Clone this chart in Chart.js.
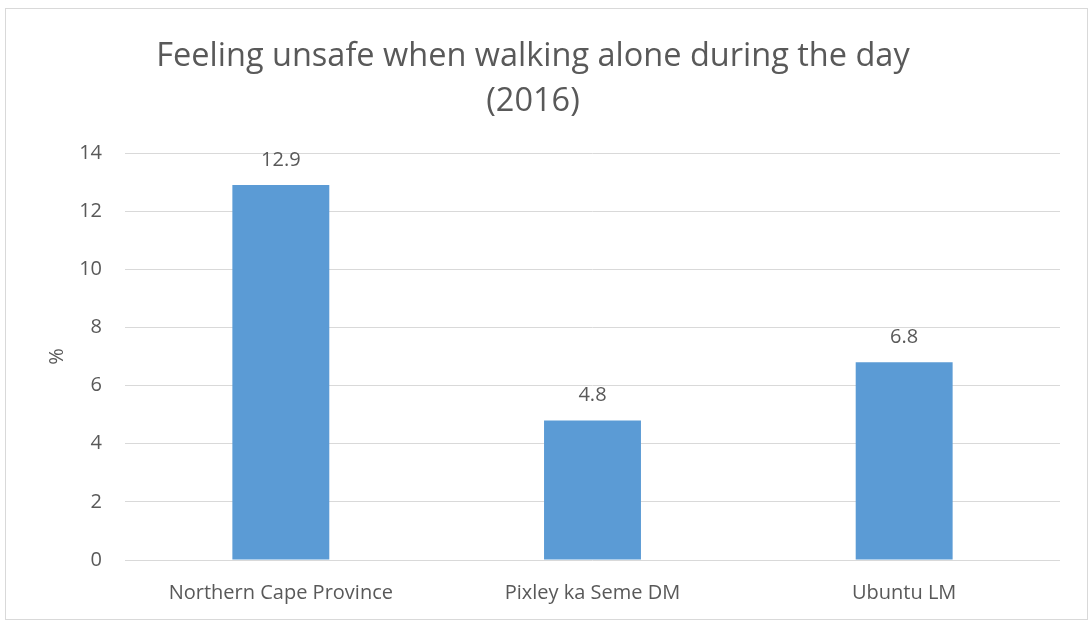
<!DOCTYPE html>
<html>
<head>
<meta charset="utf-8">
<script src="https://cdn.jsdelivr.net/npm/chart.js@4/dist/chart.umd.min.js"></script>
<style>
    body { margin: 0; background: #fff; }
    #wrap {
        position: absolute;
        left: 5px;
        top: 8px;
        width: 1081px;
        height: 610px;
        border: 1px solid #d9d9d9;
    }
</style>
</head>
<body>
<div id="wrap"><canvas id="chart" width="1081" height="610"></canvas></div>
<script>
const categories = ['Northern Cape Province', 'Pixley ka Seme DM', 'Ubuntu LM'];
const values = [12.9, 4.8, 6.8];
const yTicks = [0, 2, 4, 6, 8, 10, 12, 14];
const titleLines = ['Feeling unsafe when walking alone during the day', '(2016)'];

const textColor = '#595959';
const fontFamily = "'Open Sans', 'Noto Sans', sans-serif";

// value labels above each bar
const barLabels = {
    id: 'barLabels',
    afterDatasetsDraw(chart) {
        const ctx = chart.ctx;
        const meta = chart.getDatasetMeta(0);
        ctx.save();
        ctx.font = `20px ${fontFamily}`;
        ctx.fillStyle = textColor;
        ctx.textAlign = 'center';
        ctx.textBaseline = 'middle';
        meta.data.forEach((bar, i) => {
            ctx.fillText(values[i].toFixed(1), bar.x, bar.y - 25);
        });
        ctx.restore();
    }
};

const ctx = document.getElementById('chart').getContext('2d');
new Chart(ctx, {
    type: 'bar',
    data: {
        labels: categories,
        datasets: [{
            data: values,
            backgroundColor: '#5b9bd5',
            borderWidth: 0,
            barPercentage: 0.311,
            categoryPercentage: 1
        }]
    },
    options: {
        responsive: false,
        animation: false,
        layout: {
            padding: { left: 0, right: 27, top: 0, bottom: 0 }
        },
        scales: {
            x: {
                grid: { display: false, drawTicks: false },
                border: { display: false },
                ticks: {
                    color: textColor,
                    font: { family: fontFamily, size: 20 },
                    padding: 21,
                    maxRotation: 0
                },
                afterFit(scale) { scale.height = 59; }
            },
            y: {
                min: 0,
                max: 14,
                afterBuildTicks(scale) {
                    scale.ticks = yTicks.map(v => ({ value: v }));
                },
                grid: { color: '#d9d9d9', lineWidth: 1, drawTicks: false },
                border: { display: false },
                ticks: {
                    color: textColor,
                    font: { family: fontFamily, size: 20 },
                    padding: 23
                },
                title: {
                    display: true,
                    text: '%',
                    color: textColor,
                    font: { family: fontFamily, size: 20 },
                    padding: { top: 39, bottom: 0 }
                },
                afterFit(scale) { scale.width = 119; }
            }
        },
        plugins: {
            legend: { display: false },
            tooltip: { enabled: false },
            title: {
                display: true,
                text: titleLines,
                color: textColor,
                font: { family: fontFamily, size: 32.5, weight: 'normal', lineHeight: 1.385 },
                padding: { top: 25.5, bottom: 28.5 }
            }
        }
    },
    plugins: [barLabels]
});
</script>
</body>
</html>
